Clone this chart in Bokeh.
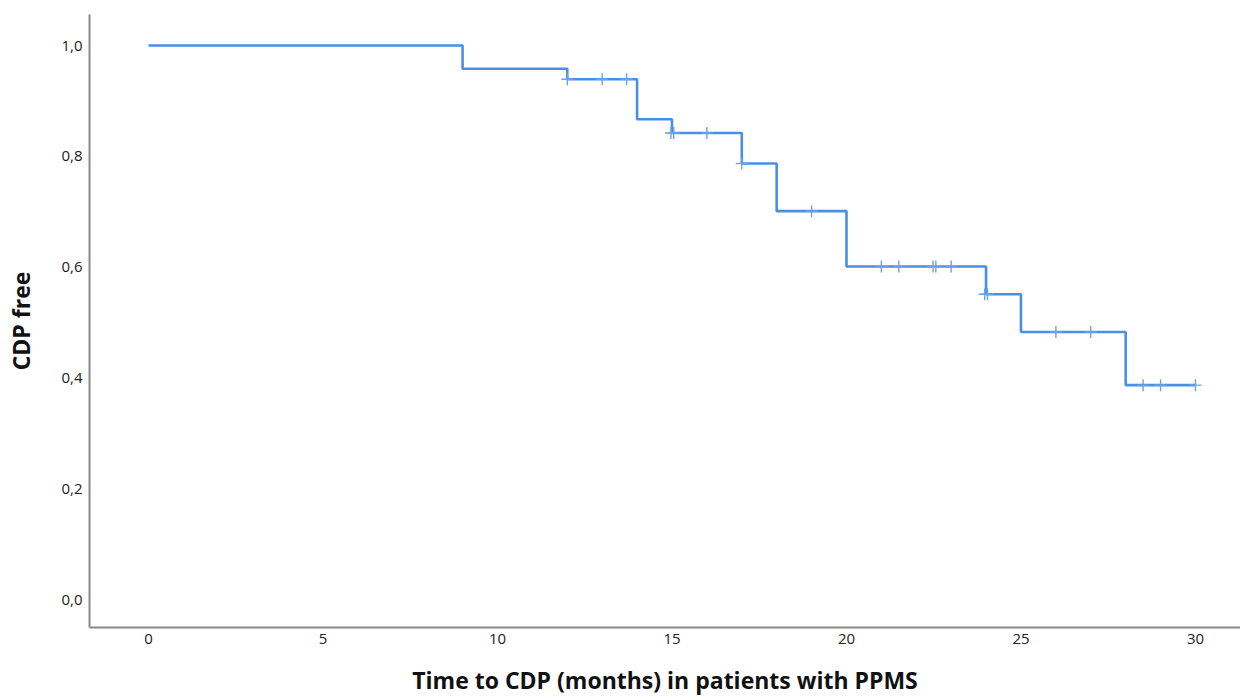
from bokeh.plotting import figure
from bokeh.models import FixedTicker
from bokeh.embed import file_html
from bokeh.resources import INLINE

# Step survival curve (Kaplan-Meier): times of events and survival after each step
step_times = [0, 9, 12, 14, 15, 17, 18, 20, 24, 25, 28, 30]
step_surv = [1.0, 0.958, 0.939, 0.867, 0.842, 0.787, 0.701, 0.601, 0.551, 0.483, 0.387, 0.387]

# Censored observations
cens_times = [12, 13, 13.7, 14.97, 15.05, 16, 17, 19, 21, 21.5, 22.48, 22.56, 23,
              23.96, 24.04, 26, 27, 28.5, 29, 30]
cens_surv = [0.939, 0.939, 0.939, 0.842, 0.842, 0.842, 0.787, 0.701, 0.601, 0.601,
             0.601, 0.601, 0.601, 0.551, 0.551, 0.483, 0.483, 0.387, 0.387, 0.387]

x_ticks = [0, 5, 10, 15, 20, 25, 30]
y_ticks = [0.0, 0.2, 0.4, 0.6, 0.8, 1.0]
y_tick_labels = ["0,0", "0,2", "0,4", "0,6", "0,8", "1,0"]

BLUE = "#4a8fe3"
FONT = "Open Sans"

p = figure(width=1240, height=698, output_backend="svg", toolbar_location=None,
           x_range=(-1.69, 31.29), y_range=(-0.0505, 1.056),
           min_border_left=89, min_border_right=0, min_border_top=14, min_border_bottom=70)
p.outline_line_color = None
p.xgrid.visible = False
p.ygrid.visible = False

p.step(step_times, step_surv, mode="after", line_color=BLUE, line_width=2.6)
p.scatter(cens_times, cens_surv, marker="cross", size=12, line_color="#6aa3ea",
          line_width=1.4)

for ax in (p.xaxis[0], p.yaxis[0]):
    ax.axis_line_color = "#8a8a8a"
    ax.axis_line_width = 2
    ax.major_tick_line_color = None
    ax.minor_tick_line_color = None
    ax.major_tick_out = 0
    ax.major_tick_in = 0
    ax.minor_tick_out = 0
    ax.major_label_text_font = FONT
    ax.major_label_text_font_size = "15px"
    ax.major_label_text_color = "#222222"
    ax.axis_label_text_font = FONT
    ax.axis_label_text_font_size = "23px"
    ax.axis_label_text_font_style = "bold"
    ax.axis_label_text_color = "#111111"

p.xaxis.ticker = FixedTicker(ticks=x_ticks)
p.yaxis.ticker = FixedTicker(ticks=y_ticks)
p.yaxis.major_label_overrides = {t: l for t, l in zip(y_ticks, y_tick_labels)}
p.xaxis.major_label_standoff = 6
p.yaxis.major_label_standoff = 7
p.xaxis.axis_label = "Time to CDP (months) in patients with PPMS"
p.yaxis.axis_label = "CDP free"
p.xaxis.axis_label_standoff = 17
p.yaxis.axis_label_standoff = 21

open("out.html", "w").write(file_html(p, INLINE))
